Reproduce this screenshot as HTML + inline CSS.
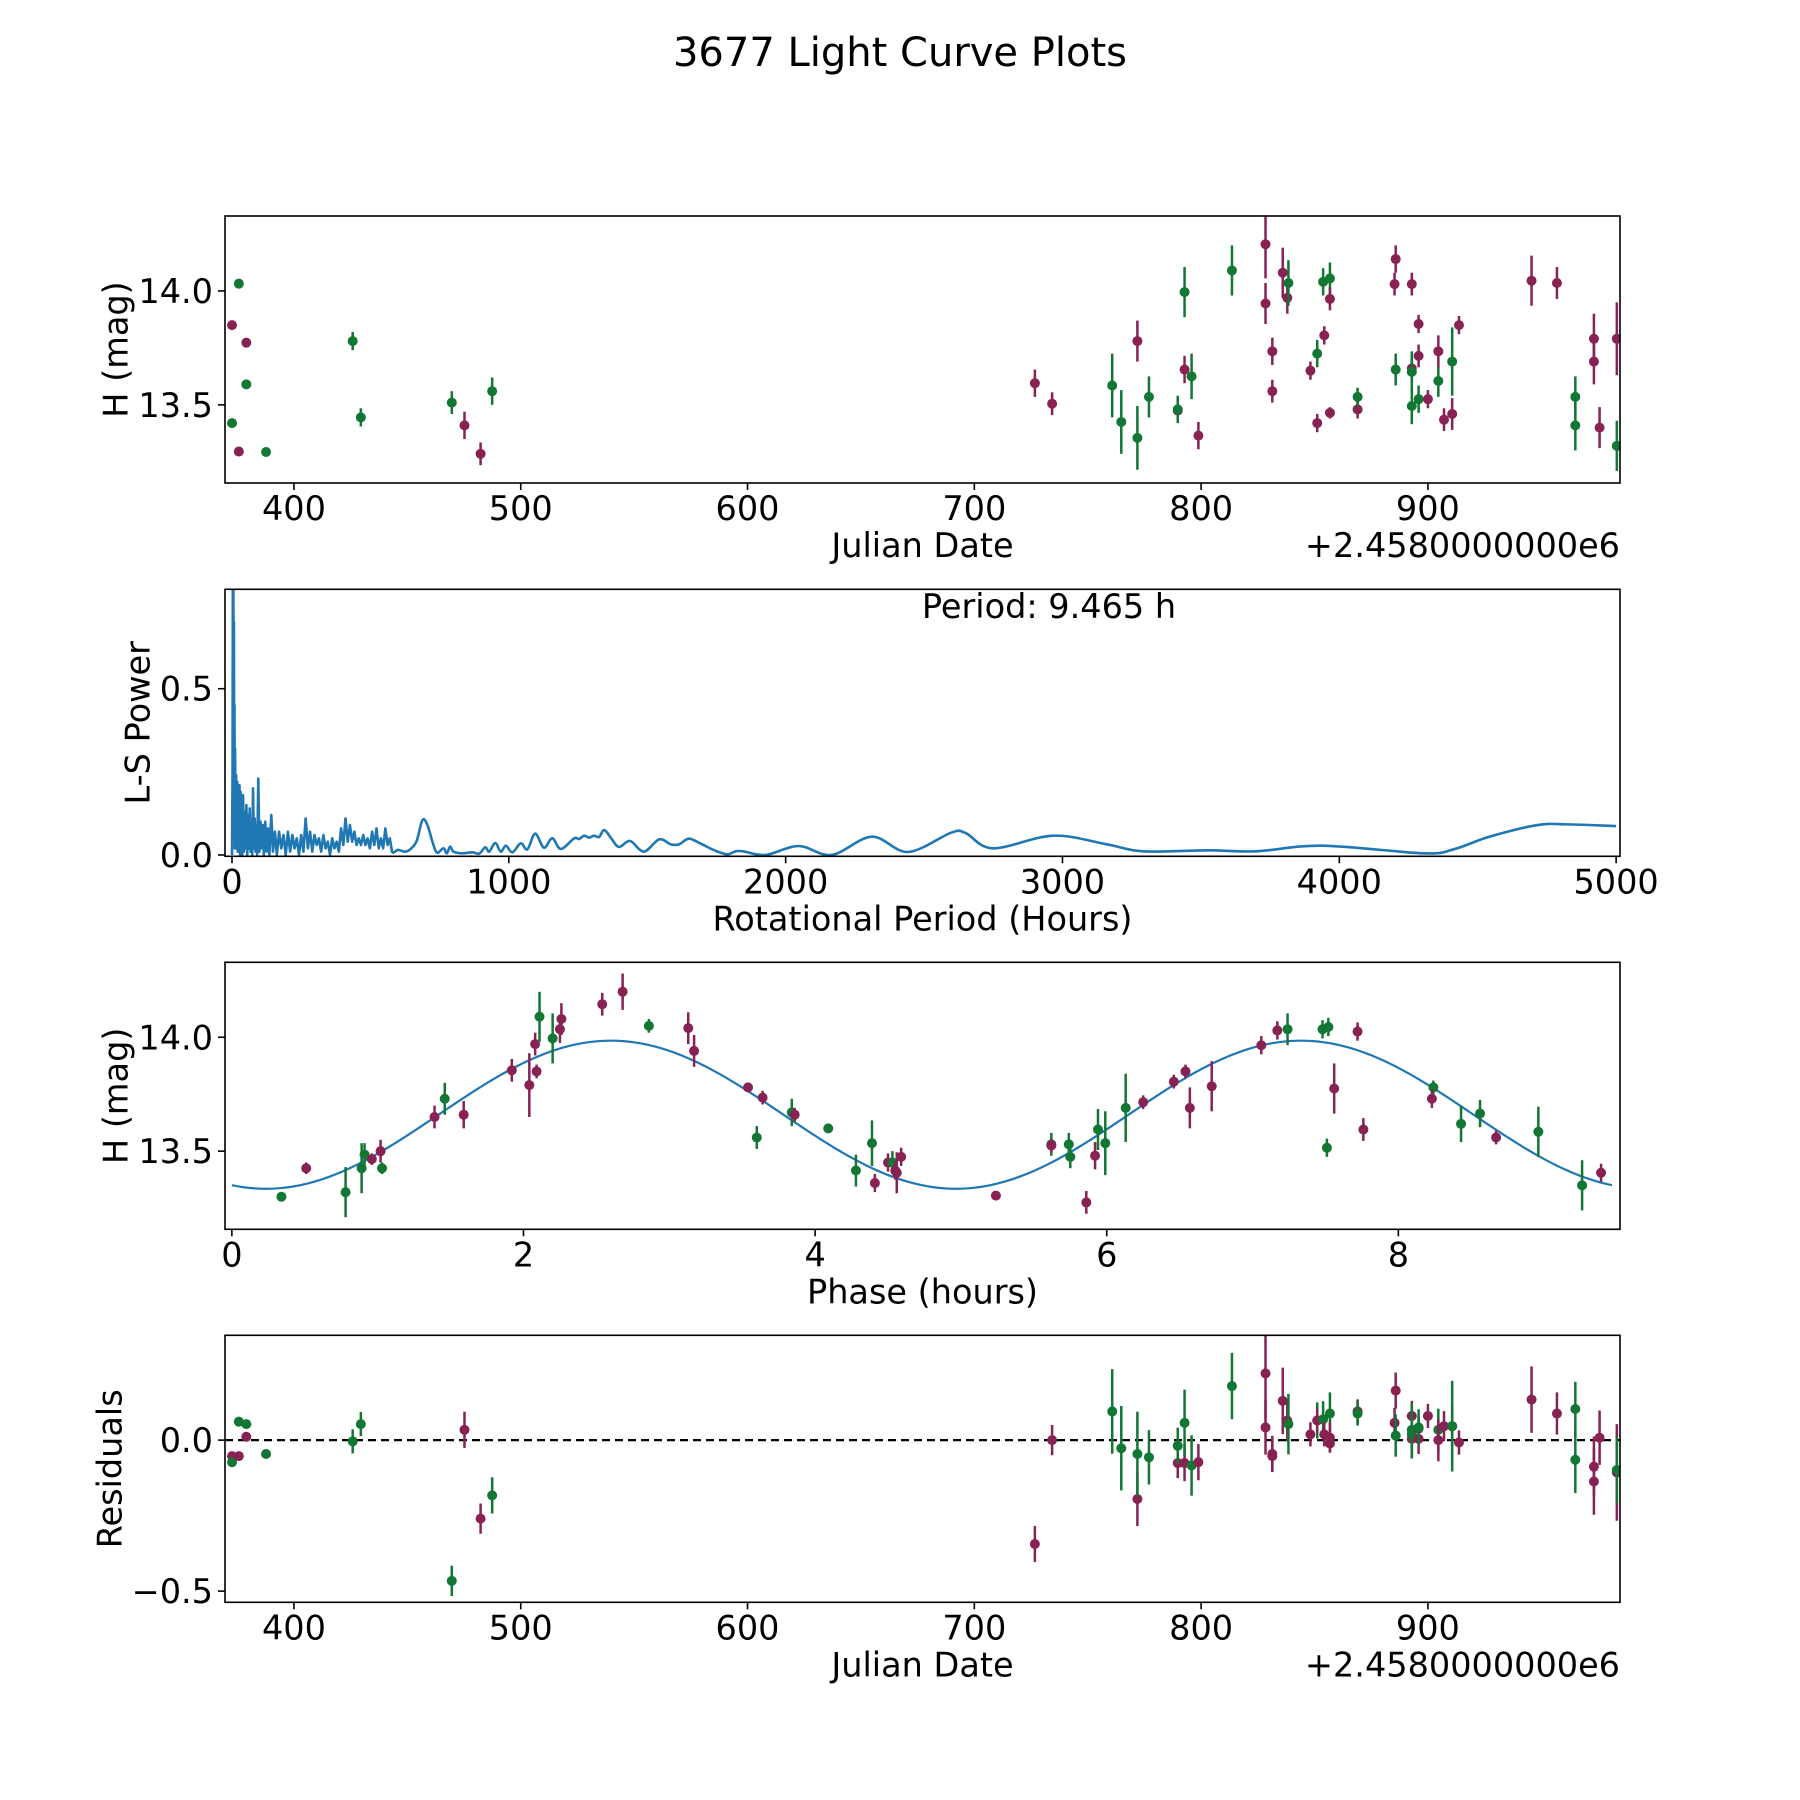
<!DOCTYPE html>
<html>
<head>
<meta charset="utf-8">
<title>3677 Light Curve Plots</title>
<style>
  html, body { margin: 0; padding: 0; background: #ffffff; }
  svg { display: block; font-family: "DejaVu Sans", "Liberation Sans", sans-serif; }
</style>
</head>
<body>
<svg id="fig" width="1800" height="1800" viewBox="0 0 1800 1800" xmlns="http://www.w3.org/2000/svg">
  <rect x="0" y="0" width="1800" height="1800" fill="#ffffff"/>
  <text x="900" y="66" font-size="40" text-anchor="middle" fill="#000">3677 Light Curve Plots</text>
</svg>
<script>
// ---------- Data: light curve (panel 1) and residuals (panel 4) ----------
const dates = [375.7,372.7,379,379,372.7,375.7,387.7,425.9,429.5,469.6,475.2,482.3,487.4,726.7,734.3,760.8,764.8,771.9,771.9,777,789.7,789.7,792.7,792.7,795.8,798.8,813.6,828.4,828.4,831.4,831.4,836,838,838.5,848.2,851.2,851.2,853.8,854.3,856.8,856.8,856.8,869,869,885.3,885.8,885.8,892.9,892.9,892.9,892.9,895.9,895.9,895.9,900,904.6,904.6,907.1,910.7,910.7,913.7,945.7,956.9,965,965,973.2,973.2,975.7,983.3,983.3];
const mags = [14.032,13.85,13.773,13.59,13.42,13.295,13.293,13.78,13.445,13.51,13.41,13.285,13.56,13.595,13.505,13.585,13.425,13.78,13.355,13.535,13.475,13.48,13.655,13.995,13.625,13.365,14.09,14.205,13.945,13.56,13.735,14.08,13.97,14.035,13.65,13.725,13.42,14.04,13.805,14.055,13.965,13.465,13.48,13.535,14.03,14.14,13.655,14.03,13.66,13.645,13.495,13.855,13.715,13.525,13.525,13.605,13.735,13.435,13.46,13.69,13.85,14.045,14.035,13.535,13.41,13.69,13.79,13.4,13.79,13.32];
const magErrs = [0.012,0.012,0.008,0.01,0.012,0.012,0.01,0.04,0.04,0.05,0.06,0.05,0.06,0.06,0.05,0.14,0.14,0.09,0.14,0.09,0.05,0.06,0.06,0.11,0.1,0.06,0.11,0.15,0.09,0.05,0.06,0.11,0.07,0.1,0.04,0.06,0.04,0.06,0.04,0.07,0.05,0.025,0.04,0.04,0.05,0.06,0.07,0.05,0.05,0.09,0.08,0.04,0.05,0.06,0.04,0.07,0.07,0.05,0.07,0.15,0.04,0.11,0.07,0.09,0.11,0.1,0.11,0.09,0.16,0.11];
const bands = ["g","m","m","g","g","m","g","g","g","g","m","m","g","m","m","g","g","m","g","g","m","g","m","g","g","m","g","m","m","m","m","m","m","g","m","g","m","g","m","g","m","m","m","g","m","m","g","m","m","g","g","m","m","g","m","g","m","m","m","g","m","m","m","g","g","m","m","m","m","g"];
const residuals = [0.061,-0.053,0.011,0.053,-0.073,-0.053,-0.046,-0.004,0.053,-0.466,0.034,-0.26,-0.183,-0.344,0,0.095,-0.027,-0.195,-0.046,-0.057,-0.076,-0.019,-0.076,0.057,-0.084,-0.073,0.179,0.221,0.042,-0.053,-0.046,0.13,0.065,0.053,0.019,0.065,0.065,0.069,0.019,0.088,0.008,-0.011,0.095,0.088,0.057,0.164,0.015,0.08,0.004,0.034,0.019,0.038,0.004,0.042,0.08,0.034,0,0.046,0.046,0.046,-0.008,0.134,0.088,0.103,-0.065,-0.088,-0.137,0.008,-0.107,-0.099];

// ---------- Data: phased light curve (panel 3) ----------
const phases = [0.34,0.51,0.78,0.89,0.91,0.96,1.02,1.03,1.39,1.46,1.59,1.92,2.04,2.08,2.09,2.11,2.2,2.25,2.26,2.54,2.68,2.86,3.13,3.17,3.54,3.6,3.64,3.84,3.86,4.09,4.28,4.39,4.41,4.5,4.53,4.55,4.56,4.59,5.24,5.62,5.62,5.74,5.75,5.86,5.92,5.94,5.99,6.13,6.25,6.46,6.54,6.57,6.72,7.06,7.17,7.24,7.48,7.52,7.51,7.56,7.72,7.76,8.24,8.23,8.43,8.56,8.67,8.96,9.26,9.39];
const phaseMags = [13.3,13.425,13.32,13.425,13.485,13.465,13.5,13.425,13.65,13.73,13.66,13.855,13.79,13.97,13.85,14.09,13.995,14.035,14.08,14.145,14.2,14.05,14.04,13.94,13.78,13.56,13.735,13.67,13.66,13.6,13.415,13.535,13.36,13.45,13.45,13.415,13.405,13.475,13.305,13.53,13.525,13.53,13.475,13.275,13.48,13.595,13.535,13.69,13.715,13.805,13.85,13.69,13.785,13.965,14.03,14.035,14.035,14.045,13.515,13.775,14.025,13.595,13.78,13.73,13.62,13.665,13.56,13.585,13.35,13.405];
const phaseErrs = [0.02,0.025,0.11,0.11,0.05,0.025,0.05,0.025,0.05,0.07,0.06,0.05,0.14,0.05,0.03,0.11,0.11,0.06,0.07,0.05,0.08,0.03,0.07,0.07,0.02,0.05,0.03,0.06,0.03,0.02,0.07,0.1,0.04,0.04,0.05,0.04,0.09,0.04,0.02,0.05,0.03,0.05,0.05,0.05,0.06,0.09,0.14,0.15,0.03,0.03,0.03,0.09,0.11,0.04,0.04,0.07,0.04,0.04,0.04,0.11,0.04,0.05,0.03,0.04,0.08,0.06,0.03,0.11,0.11,0.04];
const phaseBands = ["g","m","g","g","g","m","m","g","m","g","m","m","m","m","m","g","g","m","m","m","m","g","m","m","m","g","m","g","m","g","g","g","m","m","g","m","m","m","m","g","m","g","g","m","m","g","g","g","m","m","m","m","m","m","m","g","g","g","g","m","m","m","g","m","g","g","m","g","g","m"];
// fitted model (double-peaked sinusoid)
const modelMean = 13.66;
const modelAmp = 0.325;
const modelPeak = 2.6;
const modelHalfPeriod = 4.7325;
const foldPeriod = 9.465;

// ---------- Data: Lomb-Scargle periodogram (panel 2) ----------
const lsPeriods = [0,2,3,4,5,6,7,8,9,10,11,13,15,17,19,21,23,25,27,29,31,33,35,37,40,43,46,49,52,55,58,61,64,67,70,73,76,79,82,85,88,91,95,99,103,107,111,115,120,125,130,135,142,148,155,162,170,178,186,194,202,210,218,226,234,242,250,258,266,274,282,290,298,306,314,322,330,338,346,354,362,370,378,386,394,402,410,418,426,434,442,450,458,466,474,482,490,498,506,514,522,530,538,546,554,562,570,578,583,600,625,645,667,688,706,724,740,764,776,788,800,830,869,893,915,929,951,971,989,1013,1043,1067,1095,1127,1157,1188,1236,1254,1272,1290,1308,1326,1345,1370,1398,1438,1488,1543,1585,1615,1650,1691,1740,1788,1819,1846,1928,2047,2166,2311,2442,2598,2650,2749,2966,3160,3290,3527,3700,3938,4305,4413,4543,4716,4823,5000];
const lsPower = [0,0.25,0.8,0.3,0.83,0.05,0.7,0.1,0.45,0.02,0.32,0.03,0.24,0.02,0.22,0.01,0.2,0.02,0.21,0,0.19,0.02,0.16,0,0.18,0.01,0.13,0.02,0.15,0,0.12,0.02,0.14,0.01,0.1,0,0.2,0.02,0.11,0.01,0.09,0,0.23,0.01,0.1,0.02,0.09,0,0.1,0.01,0.08,0,0.12,0.01,0.07,0,0.07,0.02,0.06,0,0.07,0.01,0.06,0.02,0.05,0,0.06,0.01,0.11,0.02,0.07,0.01,0.06,0.03,0.05,0.01,0.06,0.02,0.04,0,0.05,0.02,0.04,0.01,0.08,0.03,0.11,0.04,0.09,0.04,0.07,0.03,0.05,0.03,0.06,0.03,0.05,0.02,0.07,0.03,0.08,0.02,0.05,0.02,0.08,0.03,0.05,0.01,0.007,0.015,0.01,0.018,0.042,0.105,0.09,0.04,0.007,0.02,0.005,0.025,0.01,0.005,0.008,0.004,0.023,0.01,0.036,0.01,0.028,0.008,0.035,0.017,0.064,0.022,0.05,0.018,0.05,0.048,0.058,0.052,0.058,0.054,0.075,0.05,0.024,0.042,0.01,0.047,0.032,0.032,0.049,0.035,0.015,0.002,0.011,0.011,0,0.027,0,0.055,0.009,0.067,0.066,0.02,0.058,0.032,0.011,0.014,0.011,0.028,0.005,0.017,0.055,0.09,0.092,0.087];
const lsSmoothFrom = 583; // periods above this are drawn as a smooth curve

// ---------- Tick labels ----------
const dateTicks = [400,500,600,700,800,900];
const magTicks = [13.5,14.0];
const magTickLabels = ["13.5","14.0"];
const periodTicks = [0,1000,2000,3000,4000,5000];
const powerTicks = [0,0.5];
const powerTickLabels = ["0.0","0.5"];
const phaseTicks = [0,2,4,6,8];
const residTicks = [-0.5,0];
const residTickLabels = ["\u22120.5","0.0"];

// ---------- Layout ----------
const NS = "http://www.w3.org/2000/svg";
const svg = document.getElementById("fig");
const L = 225, R = 1620, H = 267;
const FS = 33.5;
const COLORS = { g: "#117733", m: "#882255" };

function mk(tag, attrs, parent) {
  const el = document.createElementNS(NS, tag);
  for (const k in attrs) el.setAttribute(k, attrs[k]);
  (parent || svg).appendChild(el);
  return el;
}
function linScale(d0, d1, r0, r1) {
  return v => r0 + (v - d0) * (r1 - r0) / (d1 - d0);
}

function makeAxes(id, top, xdom, ydom) {
  const g = mk("g", {});
  
  
  const clip = mk("clipPath", { id: id + "-clip" }, g);
  mk("rect", { x: L, y: top, width: R - L, height: H }, clip);
  const plot = mk("g", { "clip-path": "url(#" + id + "-clip)" }, g);
  
  
  return {
    g: g, plot: plot, top: top, bottom: top + H,
    x: linScale(xdom[0], xdom[1], L, R),
    y: linScale(ydom[0], ydom[1], top + H, top)
  };
}

function drawFrame(ax, name) {
  const r = mk("rect", { x: L, y: ax.top, width: R - L, height: H, fill: "none", stroke: "#000", "stroke-width": 1.6 }, ax.g);
  
  
}

function xTicks(ax, vals, labels, name) {
  vals.forEach((v, i) => {
    const px = ax.x(v);
    const t = mk("line", { x1: px, x2: px, y1: ax.bottom, y2: ax.bottom + 7, stroke: "#000", "stroke-width": 1.6 }, ax.g);
    
    
    const tx = mk("text", { x: px, y: ax.bottom + 37, "font-size": FS, "text-anchor": "middle", fill: "#000" }, ax.g);
    tx.textContent = labels[i];
    
    
  });
}
function yTicks(ax, vals, labels, name) {
  vals.forEach((v, i) => {
    const py = ax.y(v);
    const t = mk("line", { x1: L - 7, x2: L, y1: py, y2: py, stroke: "#000", "stroke-width": 1.6 }, ax.g);
    
    
    const tx = mk("text", { x: L - 12, y: py + 12, "font-size": FS, "text-anchor": "end", fill: "#000" }, ax.g);
    tx.textContent = labels[i];
    
    
  });
}
function xLabel(ax, text, name) {
  const t = mk("text", { x: (L + R) / 2, y: ax.bottom + 74, "font-size": FS, "text-anchor": "middle", fill: "#000" }, ax.g);
  t.textContent = text;
  
  
}
function offsetText(ax, name) {
  const t = mk("text", { x: R, y: ax.bottom + 74, "font-size": FS, "text-anchor": "end", fill: "#000" }, ax.g);
  t.textContent = "+2.4580000000e6";
  
  
}
function yLabel(ax, text, cx, name) {
  const cy = ax.top + H / 2;
  const t = mk("text", { x: cx, y: cy, "font-size": FS, "text-anchor": "middle", "dominant-baseline": "central", transform: "rotate(-90 " + cx + " " + cy + ")", fill: "#000" }, ax.g);
  t.textContent = text;
  
  
}
function drawPoint(ax, xv, yv, err, band, name) {
  const px = ax.x(xv), py = ax.y(yv);
  const c = COLORS[band];
  const bar = mk("line", { x1: px, x2: px, y1: ax.y(yv - err), y2: ax.y(yv + err), stroke: c, "stroke-width": 2.5 }, ax.plot);
  
  
  const dot = mk("circle", { cx: px, cy: py, r: 5, fill: c }, ax.plot);
  
  
}

// ---------- Panel 1: light curve ----------
const ax1 = makeAxes("lightcurve", 216, [369.6, 984.7], [13.157, 14.329]);
dates.forEach((d, i) => drawPoint(ax1, d, mags[i], magErrs[i], bands[i], "lightcurve"));
drawFrame(ax1, "lightcurve");
xTicks(ax1, dateTicks, dateTicks.map(String), "lightcurve");
yTicks(ax1, magTicks, magTickLabels, "lightcurve");
xLabel(ax1, "Julian Date", "lightcurve");
offsetText(ax1, "lightcurve");
yLabel(ax1, "H (mag)", 116, "lightcurve");

// ---------- Panel 2: periodogram ----------
const ax2 = makeAxes("periodogram", 589.3, [-25.3, 5014], [-0.004, 0.799]);
const lsXY = lsPeriods.map((p, i) => [ax2.x(p), ax2.y(lsPower[i])]);
let d = "M" + lsXY[0][0].toFixed(2) + "," + lsXY[0][1].toFixed(2);
for (let i = 1; i < lsXY.length; i++) {
  if (lsPeriods[i] <= lsSmoothFrom) {
    d += " L" + lsXY[i][0].toFixed(2) + "," + lsXY[i][1].toFixed(2);
  } else {
    const p0 = lsXY[Math.max(i - 2, 0)], p1 = lsXY[i - 1], p2 = lsXY[i], p3 = lsXY[Math.min(i + 1, lsXY.length - 1)];
    const c1x = p1[0] + (p2[0] - p0[0]) / 6, c1y = p1[1] + (p2[1] - p0[1]) / 6;
    const c2x = p2[0] - (p3[0] - p1[0]) / 6, c2y = p2[1] - (p3[1] - p1[1]) / 6;
    d += " C" + c1x.toFixed(2) + "," + c1y.toFixed(2) + " " + c2x.toFixed(2) + "," + c2y.toFixed(2) + " " + p2[0].toFixed(2) + "," + p2[1].toFixed(2);
  }
}
const lsLine = mk("path", { d: d, fill: "none", stroke: "#1f77b4", "stroke-width": 2.6, "stroke-linejoin": "round" }, ax2.plot);


drawFrame(ax2, "periodogram");
xTicks(ax2, periodTicks, periodTicks.map(String), "periodogram");
yTicks(ax2, powerTicks, powerTickLabels, "periodogram");
xLabel(ax2, "Rotational Period (Hours)", "periodogram");
yLabel(ax2, "L-S Power", 138, "periodogram");
const ptxt = mk("text", { x: 1049, y: 618, "font-size": FS, "text-anchor": "middle", fill: "#000" }, ax2.g);
ptxt.textContent = "Period: " + foldPeriod.toFixed(3) + " h";



// ---------- Panel 3: phased curve ----------
const ax3 = makeAxes("phased", 962.3, [-0.047, 9.52], [13.157, 14.329]);
const modelPts = [];
for (let k = 0; k <= 300; k++) {
  const p = foldPeriod * k / 300;
  const m = modelMean + modelAmp * Math.cos(2 * Math.PI * (p - modelPeak) / modelHalfPeriod);
  modelPts.push(ax3.x(p).toFixed(2) + "," + ax3.y(m).toFixed(2));
}
const fitLine = mk("polyline", { points: modelPts.join(" "), fill: "none", stroke: "#1f77b4", "stroke-width": 2.2 }, ax3.plot);


phases.forEach((p, i) => drawPoint(ax3, p, phaseMags[i], phaseErrs[i], phaseBands[i], "phased"));
drawFrame(ax3, "phased");
xTicks(ax3, phaseTicks, phaseTicks.map(String), "phased");
yTicks(ax3, magTicks, magTickLabels, "phased");
xLabel(ax3, "Phase (hours)", "phased");
yLabel(ax3, "H (mag)", 116, "phased");

// ---------- Panel 4: residuals ----------
const ax4 = makeAxes("residuals", 1335.3, [369.6, 984.7], [-0.537, 0.347]);
const zl = mk("line", { x1: L, x2: R, y1: ax4.y(0), y2: ax4.y(0), stroke: "#000", "stroke-width": 2.2, "stroke-dasharray": "8,5" }, ax4.plot);


dates.forEach((d, i) => drawPoint(ax4, d, residuals[i], magErrs[i], bands[i], "residuals"));
drawFrame(ax4, "residuals");
xTicks(ax4, dateTicks, dateTicks.map(String), "residuals");
yTicks(ax4, residTicks, residTickLabels, "residuals");
xLabel(ax4, "Julian Date", "residuals");
offsetText(ax4, "residuals");
yLabel(ax4, "Residuals", 110, "residuals");
</script>
</body>
</html>
